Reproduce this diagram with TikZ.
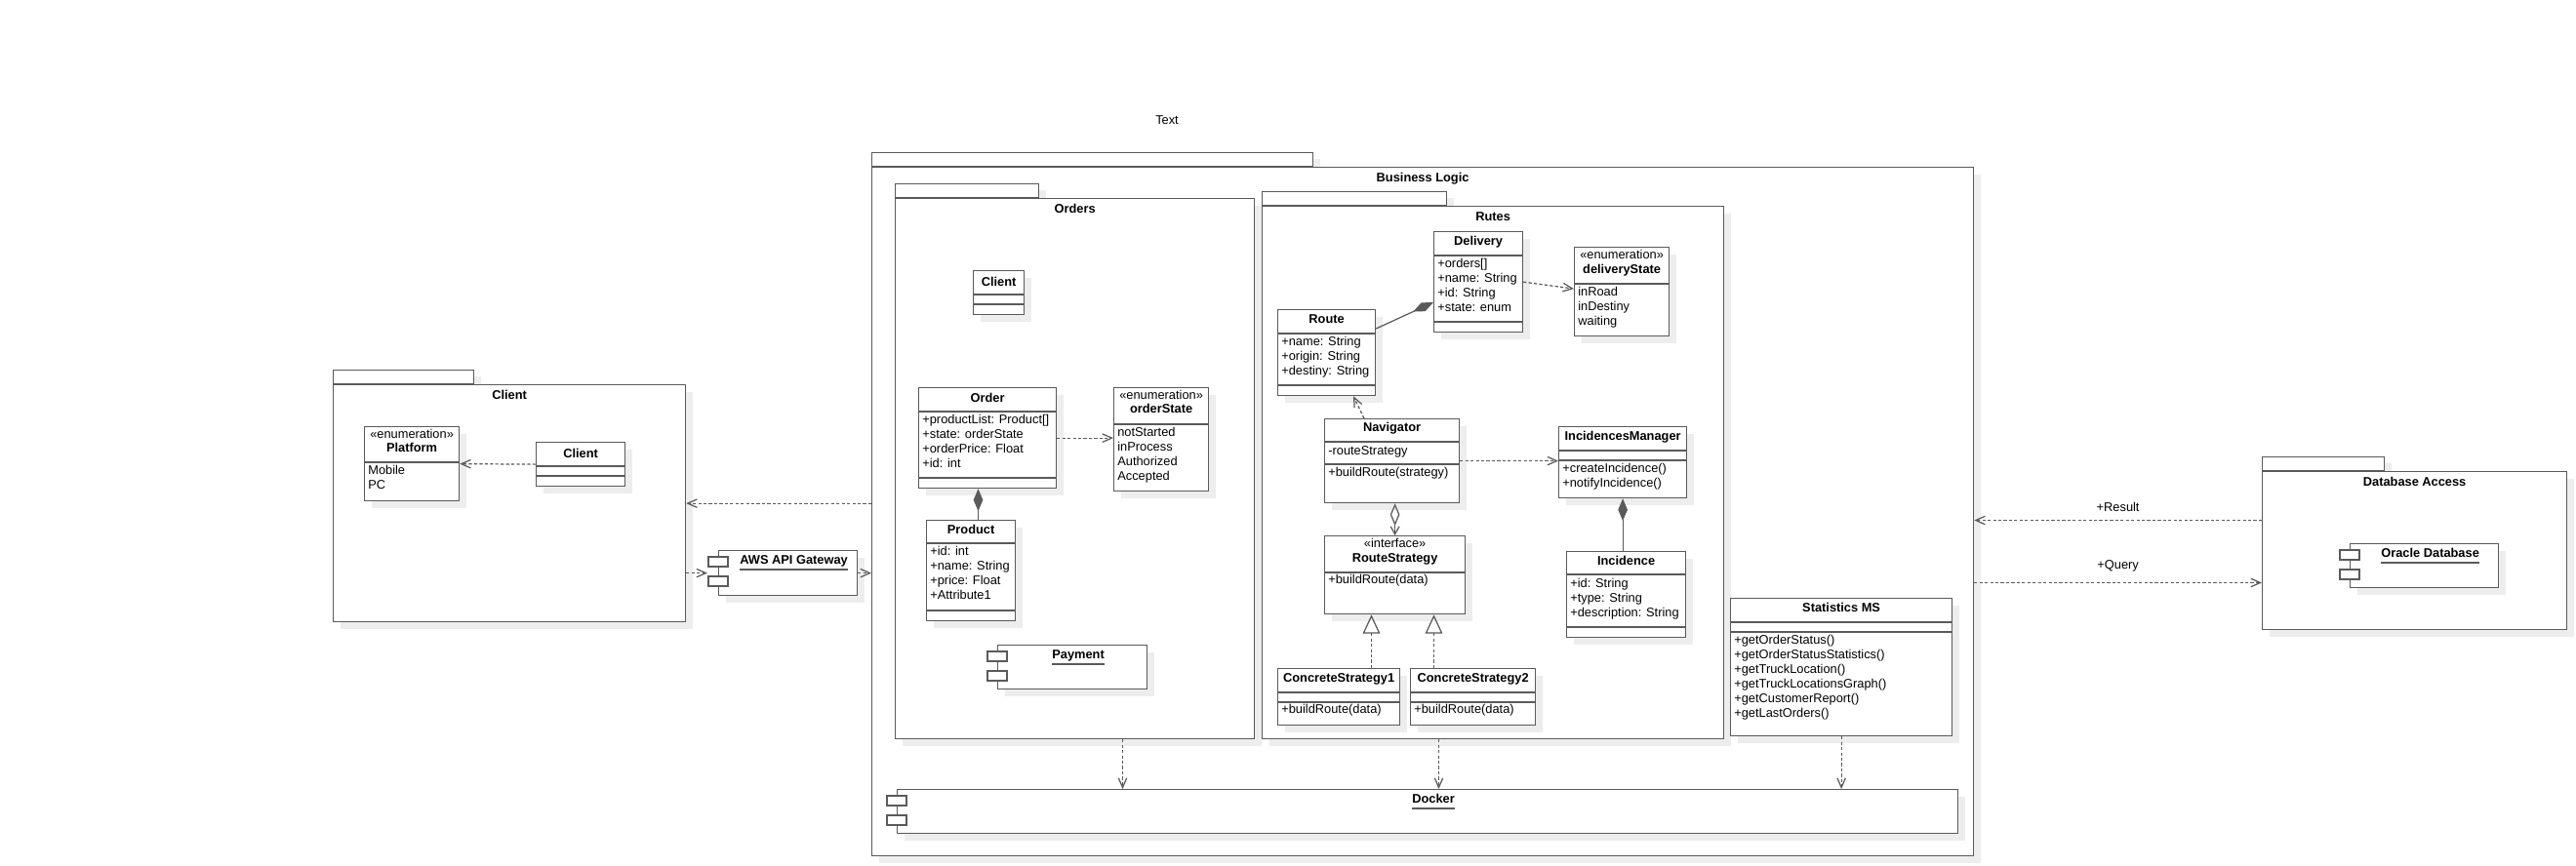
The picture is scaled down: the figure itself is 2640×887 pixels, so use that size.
\documentclass[tikz,border=0pt]{standalone}
\usepackage{fontspec}
\setmainfont{Liberation Sans}
\usepackage{tikz}
\usetikzlibrary{arrows.meta,calc,shadows}

\definecolor{umlline}{HTML}{5A5A5A}
\definecolor{umlshade}{HTML}{EDEDED}
\newcommand{\umlfont}{\fontsize{7.3}{8.5}\selectfont}

\tikzset{
	ln/.style={draw=umlline, line width=0.7pt},
	box/.style={ln, fill=white, inner sep=0pt, drop shadow={shadow xshift=0.14cm, shadow yshift=-0.14cm, fill=umlshade, opacity=1}},
	ttl/.style={font=\umlfont\bfseries, inner sep=0pt, text height=5.3pt, text depth=0pt},
	lbl/.style={font=\umlfont, inner sep=0pt, text height=5.3pt, text depth=0pt},
	txt/.style={lbl, anchor=west},
	dep/.style={ln, dash pattern=on 1.8pt off 1.3pt, -{Straight Barb[length=5.5pt,width=4.8pt]}},
	comp/.style={ln, -{Diamond[length=13pt,width=5.5pt]}},
	agg/.style={ln, {Diamond[open,length=13pt,width=5.5pt]}-{Straight Barb[length=4.5pt,width=5pt]}},
	real/.style={ln, dash pattern=on 1.8pt off 1.3pt, -{Triangle[open,length=11pt,width=10pt]}},
}

% name, x, y, w, h, divider 1, divider 2
\newcommand{\umlclass}[7]{%
	\node[box, minimum width=#4*0.02cm, minimum height=#5*0.02cm, anchor=north west] (#1) at (#2,#3) {};
	\draw[ln] ($(#1.north west)+(0,#6)$) -- ($(#1.north east)+(0,#6)$);
	\draw[ln] ($(#1.north west)+(0,#7)$) -- ($(#1.north east)+(0,#7)$);
}
% node, first line, step, lines
\newcommand{\umllines}[4]{%
	\foreach \ent [count=\i from 0] in {#4}
	\node[txt] (#1-l\i) at ($(#1.north west)+(4,#2+#3*\i)$) {\ent};
}
% name, x, y, w, h, tab width, title
\newcommand{\umlpackage}[7]{%
	\node[box, minimum width=#6*0.02cm, minimum height=14*0.02cm, anchor=south west] (#1-tab) at (#2,#3) {};
	\node[box, minimum width=#4*0.02cm, minimum height=#5*0.02cm, anchor=north west] (#1) at (#2,#3) {};
	\node[ttl] (#1-t) at ($(#1.north)+(0,11)$) {#7};
}
% name, x, y, w, h, title
\newcommand{\umlcomp}[6]{%
	\node[box, minimum width=#4*0.02cm, minimum height=#5*0.02cm, anchor=north west] (#1) at (#2,#3) {};
	\foreach \p in {7,27}
	\draw[ln, fill=white] ($(#1.north west)+(-10,\p)$) rectangle ++(20,10);
	\node[ttl] (#1-t) at ($(#1.north)+(6,10)$) {#6};
	\draw[ln] ($(#1-t.west)+(0,10)$) -- ($(#1-t.east)+(0,10)$);
}

\begin{document}
\begin{tikzpicture}[x=0.02cm,y=-0.02cm]
	\useasboundingbox (0,0) rectangle (2640,887);
	\node[lbl] (note) at (1196,123) {Text};
	% packages
	\umlpackage{bl}{893}{171}{1129}{706}{452}{Business Logic}
	\umlpackage{orders}{917}{203}{368}{554}{147}{Orders}
	\umlpackage{rutes}{1293}{211}{473}{546}{189}{Rutes}
	\umlpackage{pkgclient}{341}{394}{361}{243}{144}{Client}
	\umlpackage{dbaccess}{2318}{483}{312}{162}{125}{Database Access}
	% client side
	\umlclass{platform}{373}{437}{97}{76}{37}{37}
	\node[lbl] (platform-s) at ($(platform.north)+(0,8)$) {«enumeration»};
	\node[ttl] (platform-t) at ($(platform.north)+(0,22)$) {Platform};
	\umllines{platform}{45}{15}{Mobile,PC}
	\umlclass{cclient}{549}{453}{91}{45}{25}{35}
	\node[ttl] (cclient-t) at ($(cclient.north)+(0,12)$) {Client};
	\umlcomp{aws}{736}{564}{142}{46}{AWS API Gateway}
	% orders
	\umlclass{oclient}{997}{277}{52}{45}{25}{35}
	\node[ttl] (oclient-t) at ($(oclient.north)+(0,12)$) {Client};
	\umlclass{order}{941}{397}{141}{103}{25}{93}
	\node[ttl] (order-t) at ($(order.north)+(0,11)$) {Order};
	\umllines{order}{33}{15}{+productList: Product[],+state: orderState,+orderPrice: Float,+id: int}
	\umlclass{ostate}{1141}{397}{97}{106}{38}{38}
	\node[lbl] (ostate-s) at ($(ostate.north)+(0,8)$) {«enumeration»};
	\node[ttl] (ostate-t) at ($(ostate.north)+(0,22)$) {orderState};
	\umllines{ostate}{46}{15}{notStarted,inProcess,Authorized,Accepted}
	\umlclass{product}{949}{533}{91}{103}{24}{93}
	\node[ttl] (product-t) at ($(product.north)+(0,10)$) {Product};
	\umllines{product}{32}{15}{+id: int,+name: String,+price: Float,+Attribute1}
	\umlcomp{payment}{1022}{661}{153}{45}{Payment}
	% rutes
	\umlclass{delivery}{1469}{237}{91}{103}{25}{93}
	\node[ttl] (delivery-t) at ($(delivery.north)+(0,10)$) {Delivery};
	\umllines{delivery}{33}{15}{+orders[],+name: String,+id: String,+state: enum}
	\umlclass{dstate}{1613}{253}{97}{91}{38}{38}
	\node[lbl] (dstate-s) at ($(dstate.north)+(0,8)$) {«enumeration»};
	\node[ttl] (dstate-t) at ($(dstate.north)+(0,23)$) {deliveryState};
	\umllines{dstate}{46}{15}{inRoad,inDestiny,waiting}
	\umlclass{route}{1309}{317}{100}{88}{25}{78}
	\node[ttl] (route-t) at ($(route.north)+(0,10)$) {Route};
	\umllines{route}{33}{15}{+name: String,+origin: String,+destiny: String}
	\umlclass{navigator}{1357}{429}{138}{86}{24}{47}
	\node[ttl] (navigator-t) at ($(navigator.north)+(0,9)$) {Navigator};
	\umllines{navigator}{33}{22}{-routeStrategy,+buildRoute(strategy)}
	\umlclass{im}{1597}{437}{131}{73}{25}{35}
	\node[ttl] (im-t) at ($(im.north)+(0,10)$) {IncidencesManager};
	\umllines{im}{43}{15}{+createIncidence(),+notifyIncidence()}
	\umlclass{rs}{1357}{549}{144}{80}{38}{38}
	\node[lbl] (rs-s) at ($(rs.north)+(0,8)$) {«interface»};
	\node[ttl] (rs-t) at ($(rs.north)+(0,23)$) {RouteStrategy};
	\umllines{rs}{45}{15}{+buildRoute(data)}
	\umlclass{cs1}{1309}{685}{125}{58}{25}{35}
	\node[ttl] (cs1-t) at ($(cs1.north)+(0,10)$) {ConcreteStrategy1};
	\umllines{cs1}{42}{15}{+buildRoute(data)}
	\umlclass{cs2}{1445}{685}{128}{58}{25}{35}
	\node[ttl] (cs2-t) at ($(cs2.north)+(0,10)$) {ConcreteStrategy2};
	\umllines{cs2}{42}{15}{+buildRoute(data)}
	\umlclass{incidence}{1605}{565}{122}{88}{24}{78}
	\node[ttl] (incidence-t) at ($(incidence.north)+(0,10)$) {Incidence};
	\umllines{incidence}{33}{15}{+id: String,+type: String,+description: String}
	% statistics and docker
	\umlclass{stats}{1773}{613}{227}{141}{25}{35}
	\node[ttl] (stats-t) at ($(stats.north)+(0,10)$) {Statistics MS};
	\umllines{stats}{43}{15}{+getOrderStatus(),+getOrderStatusStatistics(),+getTruckLocation(),+getTruckLocationsGraph(),+getCustomerReport(),+getLastOrders()}
	\umlcomp{docker}{919}{809}{1087}{45}{Docker}
	\umlcomp{oracle}{2408}{557}{152}{45}{Oracle Database}
	% connectors
	\coordinate (po) at (1002.5,0);
	\coordinate (r1) at (1405.5,0);
	\coordinate (r2) at (1469.5,0);
	\coordinate (xa) at (1150.5,0);
	\coordinate (xb) at (1474.5,0);
	\coordinate (ry) at (0,533.5);
	\coordinate (qy) at (0,597.5);
	\draw[dep] (cclient.west) -- (platform.east);
	\draw[dep] (bl.west |- pkgclient.east) -- (pkgclient.east);
	\draw[dep] (pkgclient.east |- aws.west) -- ($(aws.west)+(-11,0)$);
	\draw[dep] (aws.east) -- (bl.west |- aws.east);
	\draw[dep] (order.east) -- (ostate.west |- order.east);
	\draw[comp] (product.north -| po) -- (order.south -| po);
	\draw[comp] ($(route.north east)+(0,20)$) -- ($(delivery.north west)+(0,73)$);
	\draw[dep] (delivery.east) -- ($(dstate.west)+(0,-3)$);
	\draw[dep] ($(navigator.north west)+(41,0)$) -- ($(route.south west)+(78,0)$);
	\draw[dep] (navigator.east) -- (im.west |- navigator.east);
	\draw[agg] (navigator.south -| rs.north) -- (rs.north);
	\draw[comp] (incidence.north -| im.south) -- (im.south);
	\draw[real] (cs1.north -| r1) -- (rs.south -| r1);
	\draw[real] (cs2.north -| r2) -- (rs.south -| r2);
	\draw[dep] (orders.south -| xa) -- (docker.north -| xa);
	\draw[dep] (rutes.south -| xb) -- (docker.north -| xb);
	\draw[dep] (stats.south) -- (docker.north -| stats.south);
	\draw[dep] (dbaccess.west |- ry) -- (bl.east |- ry) node[lbl, midway, yshift=8pt] (lres) {+Result};
	\draw[dep] (bl.east |- qy) -- (dbaccess.west |- qy) node[lbl, midway, yshift=10.8pt] (lqry) {+Query};
\end{tikzpicture}
\end{document}
